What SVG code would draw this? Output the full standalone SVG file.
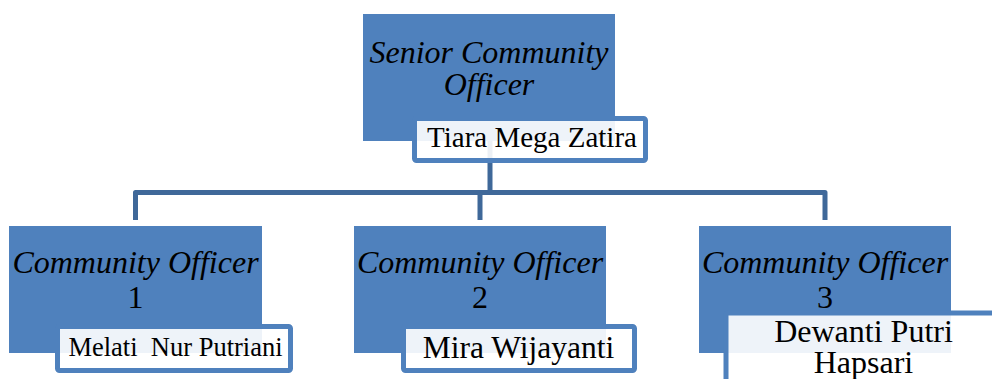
<svg xmlns="http://www.w3.org/2000/svg" width="992" height="379" viewBox="0 0 992 379">
<style>
.box{fill:#4f81bd;}
.name{fill:#ffffff;fill-opacity:0.9;stroke:#4f81bd;stroke-width:5;}
.conn{fill:none;stroke:#3f6899;stroke-width:5;stroke-linejoin:round;}
.t{font-family:"Liberation Serif","Times New Roman",serif;fill:#000;text-anchor:middle;}
.it{font-style:italic;font-size:32px;}
</style>
<rect width="992" height="379" fill="#ffffff"/>
<g id="connectors">
<path class="conn" d="M490 140 V192.5"/>
<path class="conn" d="M135.5 220 V192.5 H825 V220"/>
<path class="conn" d="M480 192.5 V220"/>
</g>
<g id="senior">
<rect class="box" x="363" y="14" width="252" height="127"/>
<text class="t it" x="489" y="63">Senior Community</text>
<text class="t it" x="489" y="95">Officer</text>
<rect class="name" x="414.5" y="118.5" width="231" height="42" rx="2"/>
<text class="t" x="532" y="147" font-size="29">Tiara Mega Zatira</text>
</g>
<g id="officer1">
<rect class="box" x="9" y="226" width="253" height="127"/>
<text class="t it" x="135.5" y="273">Community Officer</text>
<text class="t" x="135.5" y="308" font-size="32">1</text>
<rect class="name" x="57.5" y="326.5" width="233" height="44" rx="2"/>
<text class="t" x="175.5" y="356" font-size="26.5" xml:space="preserve">Melati  Nur Putriani</text>
</g>
<g id="officer2">
<rect class="box" x="354" y="226" width="252" height="127"/>
<text class="t it" x="480" y="273">Community Officer</text>
<text class="t" x="480" y="308" font-size="32">2</text>
<rect class="name" x="403.5" y="326.5" width="231" height="44" rx="2"/>
<text class="t" x="518.5" y="358" font-size="31.5">Mira Wijayanti</text>
</g>
<g id="officer3">
<rect class="box" x="699" y="226" width="252" height="127"/>
<text class="t it" x="825" y="273">Community Officer</text>
<text class="t" x="825" y="308" font-size="32">3</text>
<rect class="name" x="726" y="313" width="280" height="80" rx="2"/>
<text class="t" x="863.5" y="342" font-size="32">Dewanti Putri</text>
<text class="t" x="863.5" y="373" font-size="32">Hapsari</text>
</g>
</svg>
